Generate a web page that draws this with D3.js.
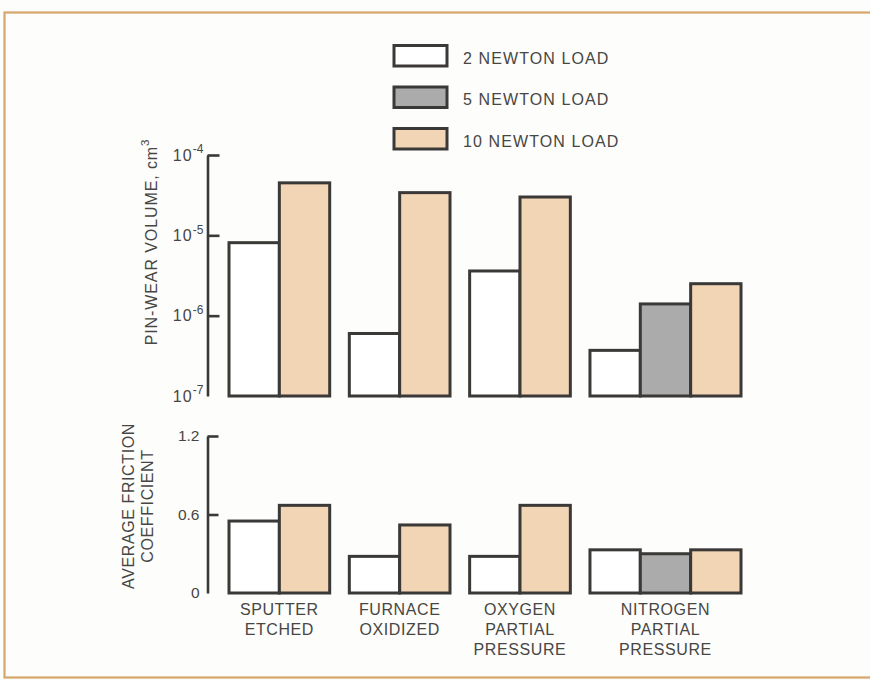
<!DOCTYPE html>
<html>
<head>
<meta charset="utf-8">
<script src="https://cdn.jsdelivr.net/npm/d3@7/dist/d3.min.js"></script>
<style>
  html, body { margin: 0; padding: 0; background: #fdfdfb; }
  svg { display: block; font-family: "Liberation Sans", Arial, Helvetica, sans-serif; }
</style>
</head>
<body>
<svg id="chart" width="870" height="680"></svg>
<script>
// Pin-wear volume and friction by surface treatment and load
const categoryLines = [
  ["SPUTTER", "ETCHED"],
  ["FURNACE", "OXIDIZED"],
  ["OXYGEN", "PARTIAL", "PRESSURE"],
  ["NITROGEN", "PARTIAL", "PRESSURE"]
];
const seriesNames = ["2 NEWTON LOAD", "5 NEWTON LOAD", "10 NEWTON LOAD"];
const seriesColors = ["#ffffff", "#ababab", "#f1d5b5"];

// Pin-wear volume, cm^3 (null = not tested)
const wear2N  = [8.1e-6, 6.0e-7, 3.6e-6, 3.7e-7];
const wear5N  = [null,   null,   null,   1.4e-6];
const wear10N = [4.5e-5, 3.4e-5, 3.0e-5, 2.5e-6];

// Average friction coefficient
const friction2N  = [0.55, 0.28, 0.28, 0.33];
const friction5N  = [null, null, null, 0.30];
const friction10N = [0.67, 0.52, 0.67, 0.33];

const wearTicks = [1e-4, 1e-5, 1e-6, 1e-7];
const wearTickExp = ["-4", "-5", "-6", "-7"];
const frictionTicks = [0, 0.6, 1.2];
const frictionTickLabels = ["0", "0.6", "1.2"];

const ink = "#3a3937";
const textColor = "#474644";

const svg = d3.select("#chart");

// frame
svg.append("rect")
  .attr("x", 4.5).attr("y", 12.5).attr("width", 900).attr("height", 665)
  .attr("fill", "none").attr("stroke", "#d6a66a").attr("stroke-width", 2.2);

// horizontal layout: each bar is one unit, a gap between groups
const barUnit = 1, gapUnit = 0.39;
const wearSeries = [wear2N, wear5N, wear10N];
const frictionSeries = [friction2N, friction5N, friction10N];

const slots = [];
let pos = 0;
const groupCenters = [];
categoryLines.forEach((c, ci) => {
  const start = pos;
  wearSeries.forEach((s, si) => {
    if (s[ci] !== null) {
      slots.push({ ci, si, x0: pos });
      pos += barUnit;
    }
  });
  groupCenters.push((start + pos) / 2);
  pos += gapUnit;
});
const totalUnits = pos - gapUnit;
const x = d3.scaleLinear().domain([0, totalUnits]).range([229, 741]);

// scales
const yWear = d3.scaleLog().domain([1e-7, 1e-4]).range([396, 155]);
const yFric = d3.scaleLinear().domain([0, 1.2]).range([593, 436]);
const axisX = 207.5;

function drawBars(scale, series, base) {
  const g = svg.append("g");
  g.selectAll("rect")
    .data(slots)
    .join("rect")
    .attr("x", d => x(d.x0))
    .attr("width", d => x(d.x0 + barUnit) - x(d.x0))
    .attr("y", d => scale(series[d.si][d.ci]))
    .attr("height", d => scale(base) - scale(series[d.si][d.ci]))
    .attr("fill", d => seriesColors[d.si])
    .attr("stroke", ink)
    .attr("stroke-width", 3)
    .attr("stroke-linejoin", "miter");
}
drawBars(yWear, wearSeries, 1e-7);
drawBars(yFric, frictionSeries, 0);

// upper axis (log)
const wearAxis = svg.append("g")
  .attr("transform", `translate(${axisX},0)`)
  .call(d3.axisLeft(yWear).tickValues(wearTicks).tickSize(-12).tickSizeOuter(0).tickPadding(4).tickFormat(() => ""));
wearAxis.attr("font-size", 15).attr("font-family", "Liberation Sans, Arial, sans-serif");
wearAxis.select(".domain").attr("stroke", ink).attr("stroke-width", 2.6);
wearAxis.selectAll(".tick line").attr("stroke", ink).attr("stroke-width", 2.6)
  .attr("display", d => d === 1e-7 ? "none" : null);
wearAxis.selectAll(".tick text")
  .attr("fill", textColor).style("font-size", "16px")
  .each(function(d, i) {
    const t = d3.select(this);
    t.append("tspan").attr("letter-spacing", 1.2).text("10");
    t.append("tspan").style("font-size", "12px").attr("dy", "-0.6em").text(wearTickExp[i]);
  });

// lower axis (linear)
const fricAxis = svg.append("g")
  .attr("transform", `translate(${axisX},0)`)
  .call(d3.axisLeft(yFric).tickValues(frictionTicks).tickSize(-11).tickSizeOuter(0).tickPadding(8)
    .tickFormat((d, i) => frictionTickLabels[i]));
fricAxis.attr("font-size", 15).attr("font-family", "Liberation Sans, Arial, sans-serif");
fricAxis.select(".domain").attr("stroke", ink).attr("stroke-width", 2.6);
fricAxis.selectAll(".tick line").attr("stroke", ink).attr("stroke-width", 2.6)
  .attr("display", d => d === 0 ? "none" : null);
fricAxis.selectAll(".tick text")
  .attr("fill", textColor).style("font-size", "15.5px");

// axis titles
const wearTitle = svg.append("text")
  .attr("transform", "translate(157,242) rotate(-90)")
  .attr("text-anchor", "middle")
  .attr("fill", textColor).attr("font-size", 16).attr("letter-spacing", 0.9);
wearTitle.append("tspan").text("PIN-WEAR VOLUME, cm");
wearTitle.append("tspan").attr("font-size", 11.5).attr("dy", "-0.7em").text("3");

[["AVERAGE FRICTION", 134], ["COEFFICIENT", 153]].forEach(([t, bx]) => {
  svg.append("text")
    .attr("transform", `translate(${bx},506) rotate(-90)`)
    .attr("text-anchor", "middle")
    .attr("fill", textColor).attr("font-size", 16).attr("letter-spacing", 0.6)
    .text(t);
});

// category labels
categoryLines.forEach((lines, ci) => {
  const t = svg.append("text")
    .attr("text-anchor", "middle")
    .attr("fill", textColor).attr("font-size", 16).attr("letter-spacing", 0.6);
  lines.forEach((ln, li) => {
    t.append("tspan").attr("x", x(groupCenters[ci])).attr("y", 615 + li * 20).text(ln);
  });
});

// legend
const legend = svg.append("g");
seriesNames.forEach((name, i) => {
  const yTop = 45.5 + i * 41.5;
  legend.append("rect")
    .attr("x", 394).attr("y", yTop).attr("width", 53).attr("height", 20.5)
    .attr("fill", seriesColors[i]).attr("stroke", ink).attr("stroke-width", 3);
  legend.append("text")
    .attr("x", 463).attr("y", yTop + 18)
    .attr("fill", textColor).attr("font-size", 16).attr("letter-spacing", 1.1)
    .text(name);
});
</script>
</body>
</html>
